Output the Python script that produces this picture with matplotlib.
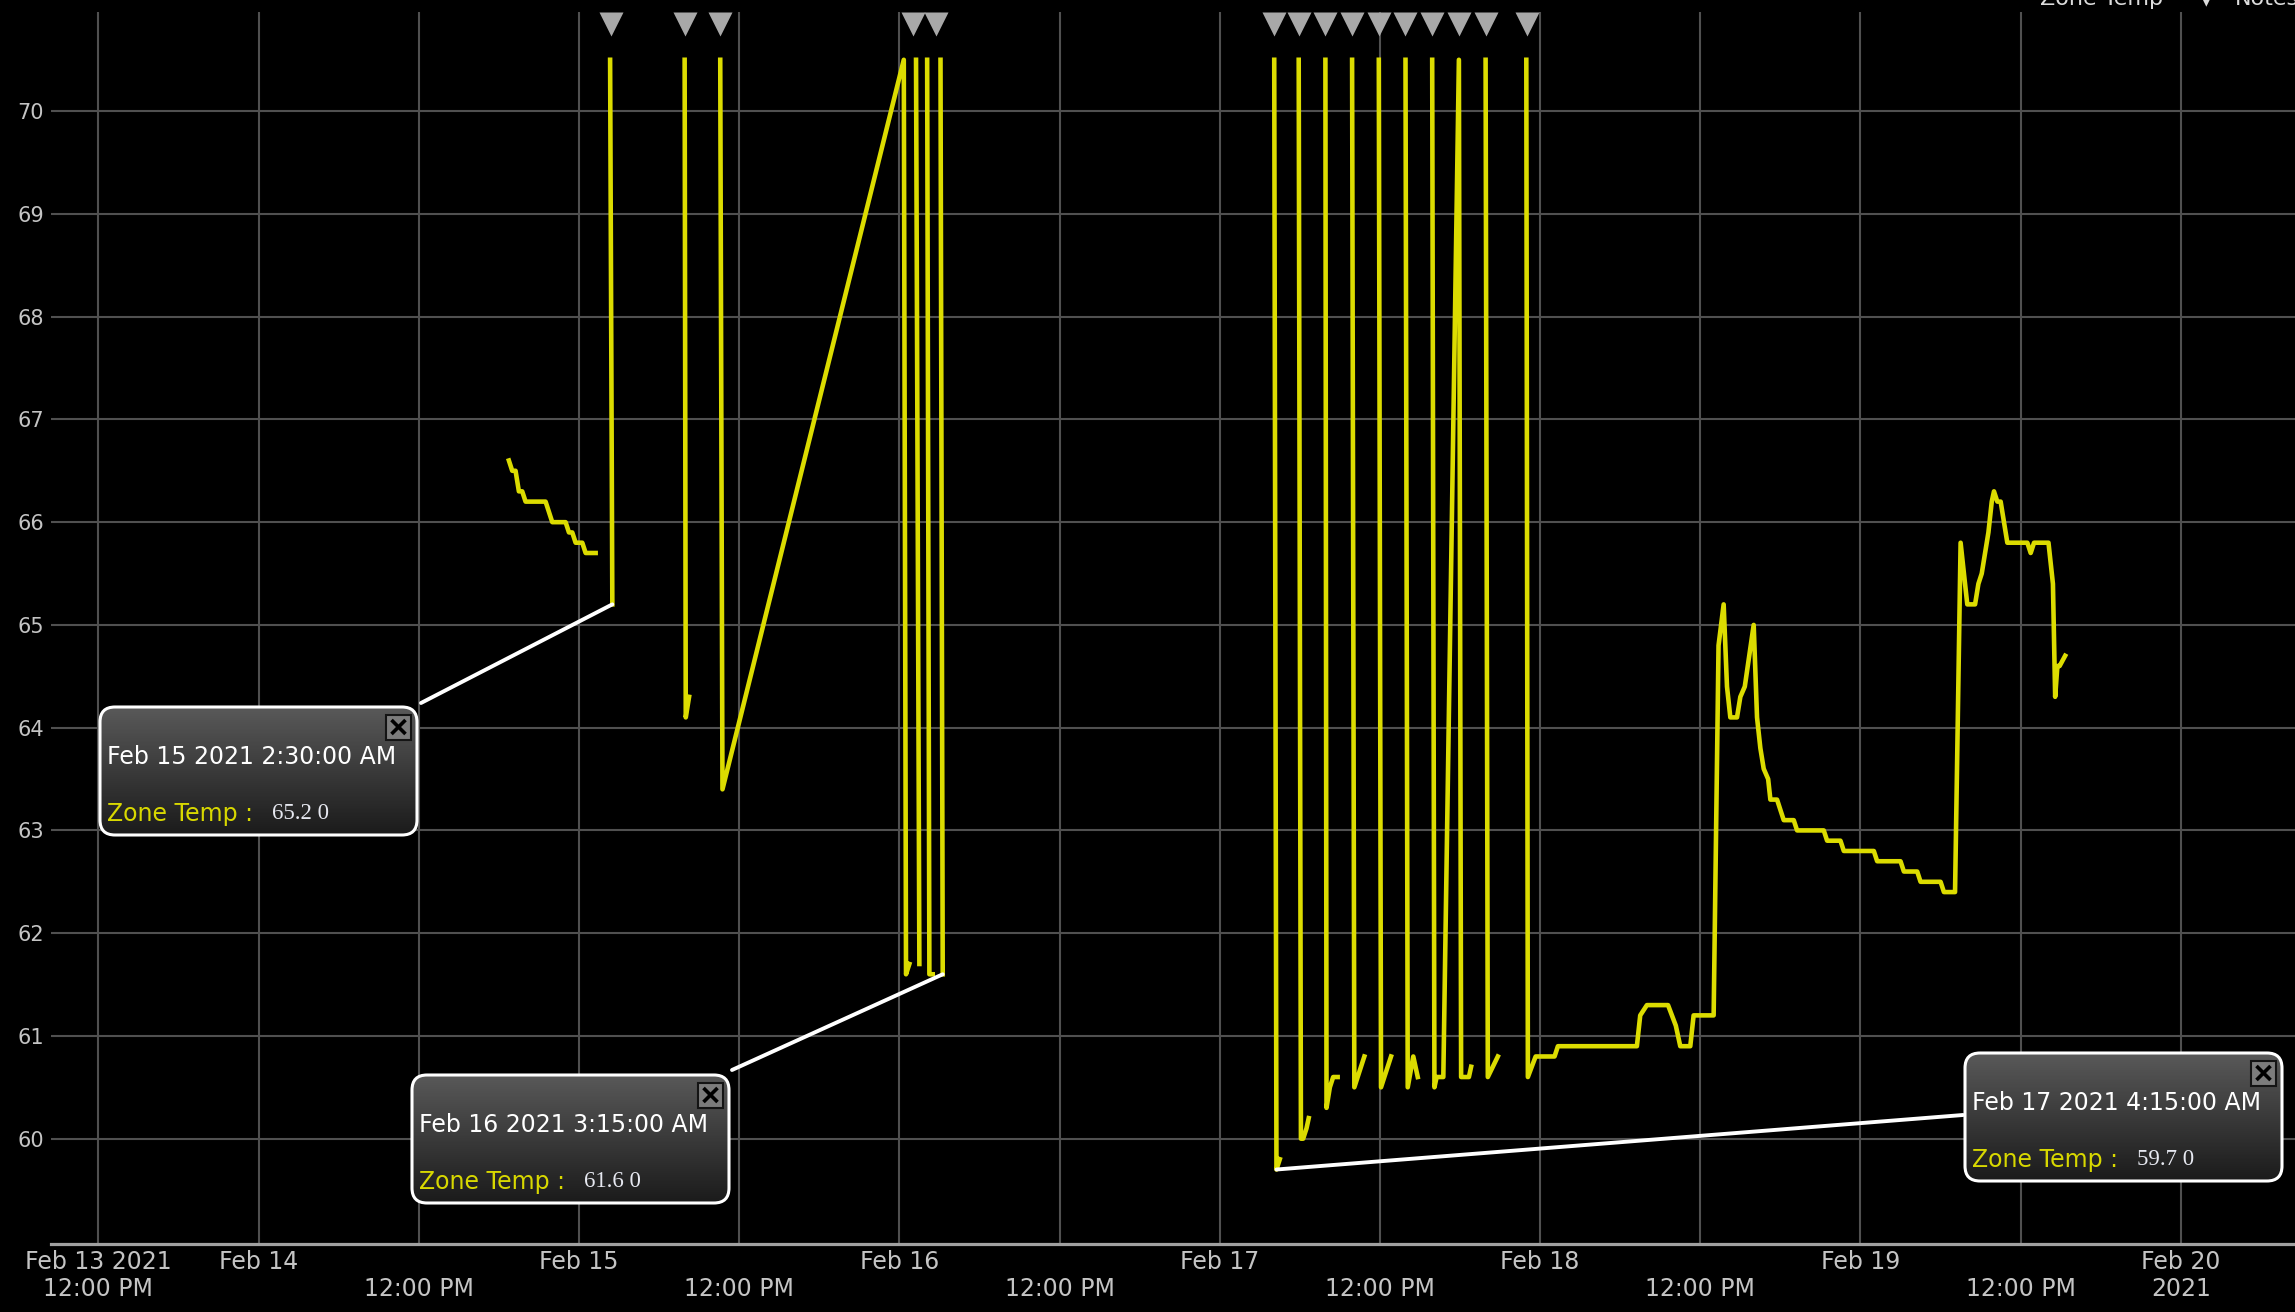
import numpy as np
import pandas as pd
import matplotlib
matplotlib.use("Agg")
import matplotlib.pyplot as plt
import matplotlib.dates as mdates
from matplotlib.patches import FancyBboxPatch, Rectangle, ConnectionPatch
from matplotlib.colors import LinearSegmentedColormap

nan = np.nan

# zone temperature readings (nan = gap in the trend)
zone_time = [
    "02-14 18:45", "02-14 19:00", "02-14 19:15", "02-14 19:30", "02-14 19:45", "02-14 20:00",
    "02-14 21:30", "02-14 22:00", "02-14 23:00", "02-14 23:15", "02-14 23:30", "02-14 23:45",
    "02-15 00:15", "02-15 00:30", "02-15 01:15", "02-15 01:45",
    "02-15 02:20", "02-15 02:30", "02-15 05:00",
    "02-15 07:55", "02-15 08:00", "02-15 08:15", "02-15 09:00",
    "02-15 10:35", "02-15 10:45", "02-16 00:20", "02-16 00:30", "02-16 00:45", "02-16 01:00",
    "02-16 01:15", "02-16 01:30", "02-16 01:45",
    "02-16 02:05", "02-16 02:15", "02-16 02:30", "02-16 02:45",
    "02-16 03:05", "02-16 03:15", "02-16 03:30",
    "02-17 04:05", "02-17 04:15", "02-17 04:30", "02-17 05:00",
    "02-17 05:55", "02-17 06:05", "02-17 06:15", "02-17 06:30", "02-17 06:40", "02-17 07:00",
    "02-17 07:55", "02-17 08:00", "02-17 08:15", "02-17 08:30", "02-17 08:50", "02-17 09:00",
    "02-17 09:55", "02-17 10:05", "02-17 10:50", "02-17 11:00",
    "02-17 11:55", "02-17 12:05", "02-17 12:50", "02-17 13:00",
    "02-17 13:55", "02-17 14:05", "02-17 14:30", "02-17 14:50", "02-17 15:00",
    "02-17 15:55", "02-17 16:05", "02-17 16:15", "02-17 16:45",
    "02-17 17:55", "02-17 18:05", "02-17 18:40", "02-17 18:50", "02-17 19:00",
    "02-17 19:55", "02-17 20:05", "02-17 20:50", "02-17 21:00",
    "02-17 22:58", "02-17 23:05", "02-17 23:40", "02-18 01:05", "02-18 01:20",
    "02-18 07:15", "02-18 07:30", "02-18 08:00", "02-18 09:35", "02-18 10:10", "02-18 10:30",
    "02-18 11:15", "02-18 11:30", "02-18 13:00", "02-18 13:22", "02-18 13:45", "02-18 14:00",
    "02-18 14:15", "02-18 14:45", "02-18 15:00", "02-18 15:20", "02-18 16:00", "02-18 16:15",
    "02-18 16:30", "02-18 16:45", "02-18 17:05", "02-18 17:15", "02-18 17:45", "02-18 18:15",
    "02-18 19:00", "02-18 19:15", "02-18 21:15", "02-18 21:30", "02-18 22:30", "02-18 22:45",
    "02-19 01:00", "02-19 01:15", "02-19 03:00", "02-19 03:15", "02-19 04:15", "02-19 04:30",
    "02-19 06:00", "02-19 06:15", "02-19 07:05", "02-19 07:30", "02-19 08:00", "02-19 08:35",
    "02-19 08:50", "02-19 09:05", "02-19 09:35", "02-19 09:50", "02-19 10:00", "02-19 10:15",
    "02-19 10:30", "02-19 11:00", "02-19 12:30", "02-19 12:45", "02-19 13:00", "02-19 14:05",
    "02-19 14:25", "02-19 14:35", "02-19 14:45", "02-19 14:55", "02-19 15:20",
]
zone_temp = [
    66.6, 66.5, 66.5, 66.3, 66.3, 66.2,
    66.2, 66.0, 66.0, 65.9, 65.9, 65.8,
    65.8, 65.7, 65.7, nan,
    70.5, 65.2, nan,
    70.5, 64.1, 64.3, nan,
    70.5, 63.4, 70.5, 61.6, 61.7, nan,
    70.5, 61.7, nan,
    70.5, 61.6, 61.6, nan,
    70.5, 61.6, nan,
    70.5, 59.7, 59.8, nan,
    70.5, 60.0, 60.0, 60.1, 60.2, nan,
    70.5, 60.3, 60.5, 60.6, 60.6, nan,
    70.5, 60.5, 60.8, nan,
    70.5, 60.5, 60.8, nan,
    70.5, 60.5, 60.8, 60.6, nan,
    70.5, 60.5, 60.6, 60.6,
    70.5, 60.6, 60.6, 60.7, nan,
    70.5, 60.6, 60.8, nan,
    70.5, 60.6, 60.8, 60.8, 60.9,
    60.9, 61.2, 61.3, 61.3, 61.1, 60.9,
    60.9, 61.2, 61.2, 64.8, 65.2, 64.4,
    64.1, 64.1, 64.3, 64.4, 65.0, 64.1,
    63.8, 63.6, 63.5, 63.3, 63.3, 63.1,
    63.1, 63.0, 63.0, 62.9, 62.9, 62.8,
    62.8, 62.7, 62.7, 62.6, 62.6, 62.5,
    62.5, 62.4, 62.4, 65.8, 65.2, 65.2,
    65.4, 65.5, 65.9, 66.2, 66.3, 66.2,
    66.2, 65.8, 65.8, 65.7, 65.8, 65.8,
    65.4, 64.3, 64.6, 64.6, 64.7,
]

notes_time = [
    "02-15 02:25", "02-15 07:55", "02-15 10:35", "02-16 01:00", "02-16 02:45",
    "02-17 04:05", "02-17 05:55", "02-17 07:55", "02-17 09:55", "02-17 11:55",
    "02-17 13:55", "02-17 15:55", "02-17 17:55", "02-17 19:55", "02-17 23:00",
]

tick_labels = ["Feb 13 2021\n12:00 PM", "Feb 14\n", "\n12:00 PM", "Feb 15\n", "\n12:00 PM",
               "Feb 16\n", "\n12:00 PM", "Feb 17\n", "\n12:00 PM", "Feb 18\n", "\n12:00 PM",
               "Feb 19\n", "\n12:00 PM", "Feb 20\n2021"]

callout_time = ["02-15 02:30", "02-16 03:15", "02-17 04:15"]
callout_temp = [65.2, 61.6, 59.7]
callout_label = ["Feb 15 2021 2:30:00 AM", "Feb 16 2021 3:15:00 AM", "Feb 17 2021 4:15:00 AM"]

# layout of the callout boxes in pixels (left, top from image top) and connector anchors
box_left = [98, 410, 1963]
box_top = [705, 1073, 1051]
anchor_px = [(421, 609), (732, 242), (1963, 197)]

def to_dt(lst):
    return pd.to_datetime(["2021-" + s for s in lst])

W, H = 2295, 1312
yellow = "#dcdc00"
fig = plt.figure(figsize=(W / 100, H / 100), dpi=100, facecolor="black")
ax = fig.add_axes([51 / W, 68 / H, 1 - 51 / W, 1232 / H])
ax.set_facecolor("black")

ax.plot(to_dt(zone_time), zone_temp, color=yellow, lw=3.3, zorder=3)
ax.plot(to_dt(notes_time), [0.99] * len(notes_time), transform=ax.get_xaxis_transform(),
        ls="none", marker="v", ms=17, color="#a8a8a8", mec="none", clip_on=False, zorder=4)

ax.set_xlim(pd.Timestamp("2021-02-13 08:27"), pd.Timestamp("2021-02-20 08:33"))
ax.set_ylim(58.975, 70.965)

ticks = pd.date_range("2021-02-13 12:00", "2021-02-20 00:00", freq="12h")
ax.set_xticks(ticks)
ax.set_xticklabels(tick_labels, fontsize=17, color="#c4c4c4", linespacing=1.2)
ax.set_yticks(range(60, 71))
ax.set_yticklabels([str(v) for v in range(60, 71)], fontsize=15, color="#c4c4c4")
ax.tick_params(length=0)
ax.tick_params(axis="x", pad=4)
ax.tick_params(axis="y", pad=5)
ax.grid(True, color="#505050", lw=1.5)
ax.set_axisbelow(True)
for s in ["top", "left", "right"]:
    ax.spines[s].set_visible(False)
ax.spines["bottom"].set_color("#a0a0a0")
ax.spines["bottom"].set_linewidth(2.3)

# legend (cut off at top of the image)
fig.text(2040 / W, 1 - 5 / H, "Zone Temp", fontsize=16, color="#dcdcdc", va="baseline")
fig.text(2201 / W, 1 - 4 / H, "\u25bc", fontsize=10, color="#dcdcdc", va="baseline")
fig.text(2235 / W, 1 - 5 / H, "Notes", fontsize=16, color="#dcdcdc", va="baseline")

# callouts
cmap = LinearSegmentedColormap.from_list("box", ["#5a5a5a", "#1a1a1a"])
bw, bh = 321, 132
for t, v, lab, bl, bt, anc in zip(callout_time, callout_temp, callout_label,
                                  box_left, box_top, anchor_px):
    xnum = mdates.date2num(to_dt([t])[0].to_pydatetime())
    con = ConnectionPatch(xyA=(xnum, v), coordsA=ax.transData,
                          xyB=anc, coordsB="figure pixels", color="white", lw=2.8, zorder=4)
    fig.add_artist(con)

    bax = fig.add_axes([bl / W, (H - bt - bh) / H, bw / W, bh / H], zorder=5)
    bax.set_xlim(0, bw)
    bax.set_ylim(0, bh)
    bax.axis("off")
    bax.patch.set_visible(False)
    shape = FancyBboxPatch((2, 2), bw - 4, bh - 4, boxstyle="round,pad=0,rounding_size=15",
                           facecolor="none", edgecolor="none", transform=bax.transData)
    bax.add_patch(shape)
    im = bax.imshow(np.linspace(0, 1, 100).reshape(-1, 1), cmap=cmap, aspect="auto",
                    extent=(0, bw, 0, bh), origin="upper")
    im.set_clip_path(shape)
    bax.add_patch(FancyBboxPatch((2, 2), bw - 4, bh - 4, boxstyle="round,pad=0,rounding_size=15",
                                 facecolor="none", edgecolor="white", lw=2.2))
    bax.add_patch(Rectangle((288, bh - 34.5), 25, 25, facecolor="#7c7c7c",
                            edgecolor="#141414", lw=1.5))
    bax.plot([293.5, 307.5], [bh - 29, bh - 15], color="black", lw=2.6, solid_capstyle="butt")
    bax.plot([293.5, 307.5], [bh - 15, bh - 29], color="black", lw=2.6, solid_capstyle="butt")
    bax.text(9, bh - 52.5, lab, fontsize=17, color="white", va="center", ha="left")
    bax.text(9, bh - 108.5, "Zone Temp :", fontsize=17, color="#d8d800", va="center", ha="left")
    bax.text(174, bh - 108.5, "{:.1f} 0".format(v), fontsize=16.5, color="#e6e8f0",
             family="Liberation Serif", va="center", ha="left")

fig.savefig("out.png", dpi=100, facecolor="black")
